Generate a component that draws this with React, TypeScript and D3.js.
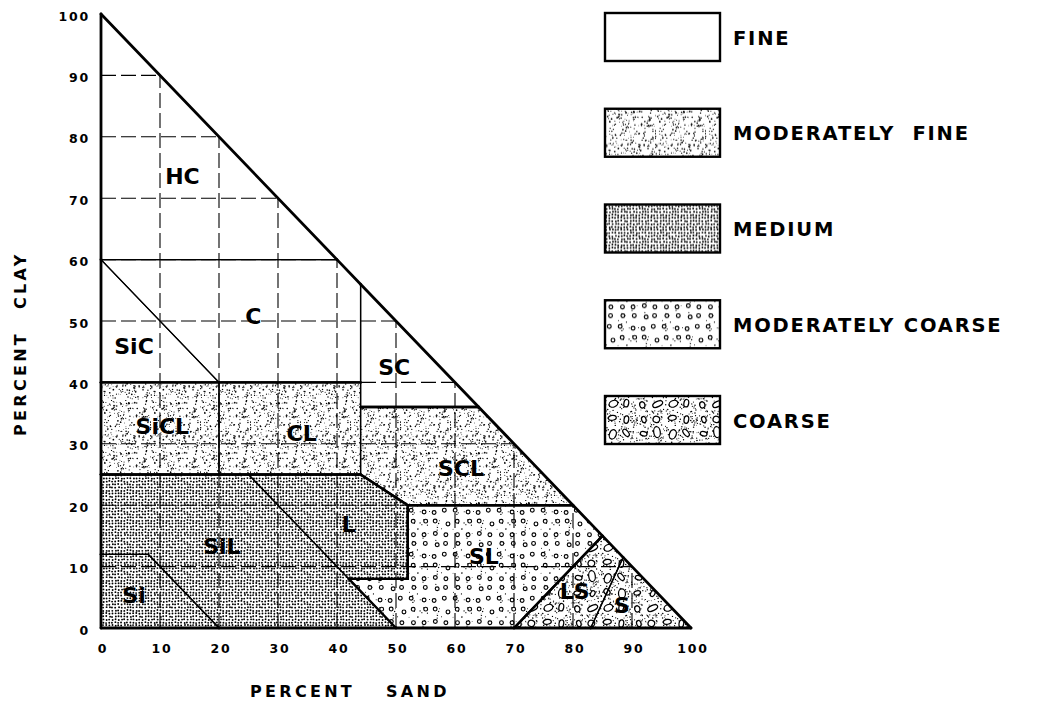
import * as d3 from "d3";
import { useEffect, useRef } from "react";

// axis ticks (percent)
const sandTicks = [0, 10, 20, 30, 40, 50, 60, 70, 80, 90, 100];
const clayTicks = [0, 10, 20, 30, 40, 50, 60, 70, 80, 90, 100];
const gridValues = [10, 20, 30, 40, 50, 60, 70, 80, 90];

// texture groups (legend)
const textureNames = ["FINE", "MODERATELY  FINE", "MEDIUM", "MODERATELY COARSE", "COARSE"];
const textureIds = ["fine", "modFine", "medium", "modCoarse", "coarse"];

// texture classes: [sand, clay] corners
const classNames = ["HC", "C", "SiC", "SC", "SiCL", "CL", "SCL", "L", "SiL", "Si", "SL", "LS", "S"];
const classTexture = [0, 0, 0, 0, 1, 1, 1, 2, 2, 2, 3, 4, 4];
const classPolygons: [number, number][][] = [
    [[0, 60], [0, 100], [40, 60]],
    [[0, 60], [40, 60], [44, 56], [44, 40], [20, 40]],
    [[0, 40], [0, 60], [20, 40]],
    [[44, 36], [44, 56], [64, 36]],
    [[0, 25], [0, 40], [20, 40], [20, 25]],
    [[20, 25], [20, 40], [44, 40], [44, 25]],
    [[44, 25], [44, 36], [64, 36], [80, 20], [52, 20]],
    [[25, 25], [44, 25], [52, 20], [52, 8], [42, 8]],
    [[0, 12], [0, 25], [25, 25], [50, 0], [20, 0], [8, 12]],
    [[0, 0], [0, 12], [8, 12], [20, 0]],
    [[42, 8], [52, 8], [52, 20], [80, 20], [85, 15], [70, 0], [50, 0]],
    [[70, 0], [85, 15], [88.5, 11.5], [83, 0]],
    [[83, 0], [88.5, 11.5], [100, 0]],
];
const labelSand = [13.8, 25.8, 5.6, 49.7, 10.4, 34, 61, 42, 20.5, 5.6, 64.9, 80.3, 88.3];
const labelClay = [73.5, 50.8, 45.8, 42.4, 32.8, 31.7, 25.9, 16.8, 13.2, 5.3, 11.6, 5.9, 3.6];

const FONT = "'DejaVu Sans', Verdana, sans-serif";

// seeded generator, only for the stipple textures
const seeded = (seed: number) => {
    let s = seed;
    return () => {
        s = (s * 16807) % 2147483647;
        return (s - 1) / 2147483646;
    };
};

const makePatterns = (defs: any) => {
    const rnd = seeded(12345);
    const pattern = (id: string, size: number) => {
        const p = defs
            .append("pattern")
            .attr("id", id)
            .attr("patternUnits", "userSpaceOnUse")
            .attr("width", size)
            .attr("height", size);
        p.append("rect").attr("width", size).attr("height", size).attr("fill", "#fff");
        return p;
    };

    pattern("fine", 10);

    // sparse speckle
    const mf = pattern("modFine", 50);
    for (let i = 0; i < 260; i++) {
        mf.append("circle")
            .attr("cx", rnd() * 50)
            .attr("cy", rnd() * 50)
            .attr("r", 0.4 + rnd() * 0.45)
            .attr("fill", "#000");
    }

    // dense, fairly even dots
    const md = pattern("medium", 30);
    for (let gx = 0; gx < 30; gx += 3) {
        for (let gy = 0; gy < 30; gy += 3) {
            md.append("circle")
                .attr("cx", gx + 1.5 + (rnd() - 0.5) * 1.2)
                .attr("cy", gy + 1.5 + (rnd() - 0.5) * 1.2)
                .attr("r", 0.95)
                .attr("fill", "#000");
        }
    }

    // small rings
    const mc = pattern("modCoarse", 44);
    for (let i = 0; i < 30; i++) {
        mc.append("circle")
            .attr("cx", rnd() * 44)
            .attr("cy", rnd() * 44)
            .attr("r", 0.4 + rnd() * 0.3)
            .attr("fill", "#000");
    }
    for (let row = 0; row < 4; row++) {
        for (let col = 0; col < 4; col++) {
            const off = row % 2 ? 3 : -1;
            mc.append("circle")
                .attr("cx", col * 11 + 5.5 + off * 0.5 + (rnd() - 0.5) * 3)
                .attr("cy", row * 11 + 5.5 + (rnd() - 0.5) * 3)
                .attr("r", 1.9)
                .attr("fill", "#fff")
                .attr("stroke", "#000")
                .attr("stroke-width", 1.15);
        }
    }

    // stipple + pebbles
    const co = pattern("coarse", 60);
    for (let i = 0; i < 360; i++) {
        co.append("circle")
            .attr("cx", rnd() * 60)
            .attr("cy", rnd() * 60)
            .attr("r", 0.4 + rnd() * 0.4)
            .attr("fill", "#000");
    }
    for (let row = 0; row < 4; row++) {
        for (let col = 0; col < 4; col++) {
            const rx = 3 + rnd() * 2.6;
            const ry = 2 + rnd() * 1.5;
            const cx = col * 15 + 7.5 + (rnd() - 0.5) * 3;
            const cy = row * 15 + 7.5 + (rnd() - 0.5) * 3;
            co.append("ellipse")
                .attr("cx", cx)
                .attr("cy", cy)
                .attr("rx", rx)
                .attr("ry", ry)
                .attr("transform", `rotate(${rnd() * 180},${cx},${cy})`)
                .attr("fill", "#fff")
                .attr("stroke", "#000")
                .attr("stroke-width", 1.25);
        }
    }
};

export default function App() {
    const svgRef = useRef<SVGSVGElement>(null);

    useEffect(() => {
        if (svgRef.current) {
            drawChart();
        }
    }, [svgRef]);

    const drawChart = () => {
        const svg = d3.select(svgRef.current);
        svg.selectAll("*").remove();
        makePatterns(svg.append("defs"));

        const x = d3.scaleLinear().domain([0, 100]).range([101, 691]);
        const y = d3.scaleLinear().domain([0, 100]).range([628, 14]);
        const line = d3
            .line<[number, number]>()
            .x((d) => x(d[0]))
            .y((d) => y(d[1]));

        // class fills
        svg.append("g")
            .selectAll("path")
            .data(classPolygons)
            .join("path")
            .attr("d", (d) => line(d) + "Z")
            .attr("fill", (d, i) => `url(#${textureIds[classTexture[i]]})`);

        // dashed grid, clipped by the hypotenuse
        const grid = svg
            .append("g")
            .attr("stroke", "#000")
            .attr("stroke-width", 1.1)
            .attr("stroke-dasharray", "15,5");
        gridValues.forEach((v) => {
            grid.append("line").attr("x1", x(v)).attr("x2", x(v)).attr("y1", y(0)).attr("y2", y(100 - v));
            grid.append("line").attr("x1", x(0)).attr("x2", x(100 - v)).attr("y1", y(v)).attr("y2", y(v));
        });

        // class boundaries: heavier where the texture changes
        const edges: any[] = [];
        classPolygons.forEach((poly, i) => {
            poly.forEach((a, k) => {
                const b = poly[(k + 1) % poly.length];
                const mx = (a[0] + b[0]) / 2;
                const my = (a[1] + b[1]) / 2;
                const len = Math.hypot(b[0] - a[0], b[1] - a[1]);
                const nx = (-(b[1] - a[1]) / len) * 0.4;
                const ny = ((b[0] - a[0]) / len) * 0.4;
                let p: [number, number] = [mx + nx, my + ny];
                if (d3.polygonContains(poly, p)) p = [mx - nx, my - ny];
                const j = classPolygons.findIndex((q, jj) => jj !== i && d3.polygonContains(q, p));
                const w = j < 0 ? 2.8 : classTexture[j] !== classTexture[i] ? 2.4 : 1.3;
                edges.push({ a, b, w });
            });
        });
        svg.append("g")
            .selectAll("line")
            .data(edges)
            .join("line")
            .attr("x1", (d) => x(d.a[0]))
            .attr("y1", (d) => y(d.a[1]))
            .attr("x2", (d) => x(d.b[0]))
            .attr("y2", (d) => y(d.b[1]))
            .attr("stroke", "#000")
            .attr("stroke-width", (d) => d.w)
            .attr("stroke-linecap", "round");

        // class labels
        svg.append("g")
            .selectAll("text")
            .data(classNames)
            .join("text")
            .attr("x", (d, i) => x(labelSand[i]))
            .attr("y", (d, i) => y(labelClay[i]))
            .attr("text-anchor", "middle")
            .attr("dominant-baseline", "central")
            .attr("font-family", FONT)
            .attr("font-weight", "bold")
            .attr("font-size", 22)
            .text((d) => d);

        // tick labels
        const ticks = svg.append("g").attr("font-family", FONT).attr("font-weight", "bold").attr("font-size", 12.5);
        ticks.selectAll(".ty")
            .data(clayTicks)
            .join("text")
            .attr("class", "ty")
            .attr("x", 90)
            .attr("y", (d) => y(d) + 2)
            .attr("text-anchor", "end")
            .attr("dominant-baseline", "central")
            .attr("letter-spacing", 1.8)
            .text((d) => `${d}`);
        ticks.selectAll(".tx")
            .data(sandTicks)
            .join("text")
            .attr("class", "tx")
            .attr("x", (d) => x(d) + 2)
            .attr("y", 648)
            .attr("text-anchor", "middle")
            .attr("dominant-baseline", "central")
            .attr("letter-spacing", 1.8)
            .text((d) => `${d}`);

        // axis titles
        const titles = svg
            .append("g")
            .attr("font-family", FONT)
            .attr("font-weight", "bold")
            .attr("font-size", 16)
            .attr("letter-spacing", 3.3)
            .attr("dominant-baseline", "central");
        titles.append("text").attr("x", 250).attr("y", 691).text("PERCENT");
        titles.append("text").attr("x", 386).attr("y", 691).text("SAND");
        titles.append("text").attr("transform", "translate(20,436) rotate(-90)").text("PERCENT");
        titles.append("text").attr("transform", "translate(20,309) rotate(-90)").text("CLAY");

        // legend
        const legendY = d3.scaleLinear().domain([0, 4]).range([13, 396]);
        const legend = svg
            .append("g")
            .selectAll("g")
            .data(textureNames)
            .join("g")
            .attr("transform", (d, i) => `translate(605,${legendY(i)})`);
        legend
            .append("rect")
            .attr("width", 115)
            .attr("height", 48)
            .attr("fill", (d, i) => `url(#${textureIds[i]})`)
            .attr("stroke", "#000")
            .attr("stroke-width", 2.4);
        legend
            .append("text")
            .attr("x", 128)
            .attr("y", 25)
            .attr("dominant-baseline", "central")
            .attr("font-family", FONT)
            .attr("font-weight", "bold")
            .attr("font-size", 19.5)
            .attr("letter-spacing", 1.8)
            .style("white-space", "pre")
            .text((d) => d);
    };

    return (
        <svg
            ref={svgRef}
            width={1038}
            height={702}
            style={{ position: "absolute", left: 0, top: 0, background: "#fff" }}
        />
    );
}
